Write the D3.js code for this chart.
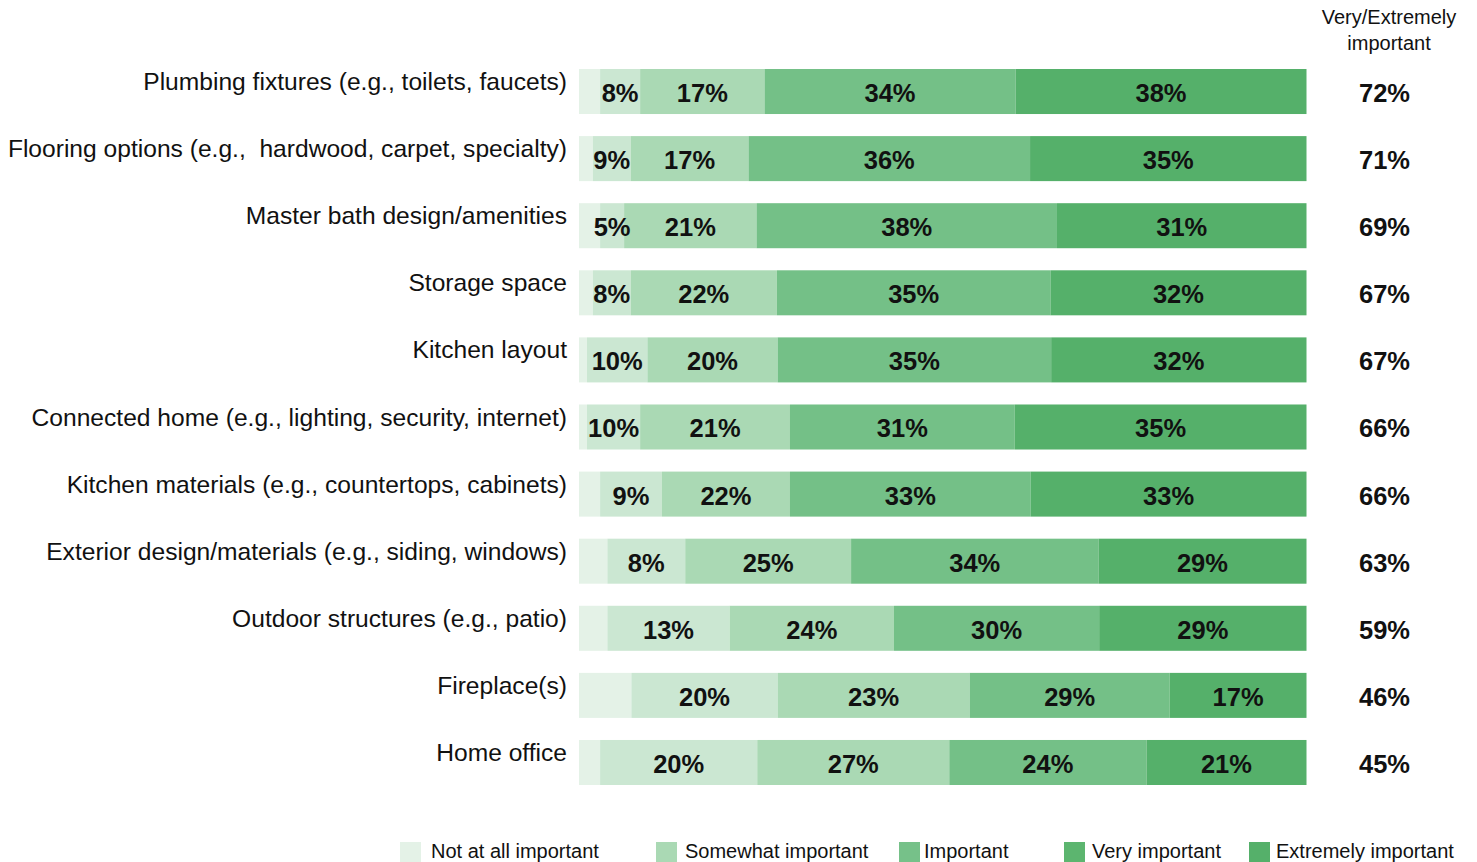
<!DOCTYPE html>
<html>
<head>
<meta charset="utf-8">
<script src="https://cdn.jsdelivr.net/npm/d3@7"></script>
<style>
  html, body { margin: 0; padding: 0; background: #ffffff; }
  svg { display: block; }
</style>
</head>
<body>
<svg id="chart" width="1477" height="862"></svg>
<script>
// ---------- DATA ----------
const categories = [
  "Plumbing fixtures (e.g., toilets, faucets)",
  "Flooring options (e.g.,  hardwood, carpet, specialty)",
  "Master bath design/amenities",
  "Storage space",
  "Kitchen layout",
  "Connected home (e.g., lighting, security, internet)",
  "Kitchen materials (e.g., countertops, cabinets)",
  "Exterior design/materials (e.g., siding, windows)",
  "Outdoor structures (e.g., patio)",
  "Fireplace(s)",
  "Home office"
];

// Segment lengths as drawn in the picture (share of the bar, %)
const notAtAllShare  = [2.9, 1.9, 2.9, 1.9, 1.1, 1.1, 2.9, 3.9, 3.9, 7.2, 2.9];
const somewhatShare  = [5.5, 5.2, 3.3, 5.2, 8.3, 7.3, 8.5, 10.7, 16.8, 20.1, 21.6];
const importantShare = [17.1, 16.2, 18.2, 20.1, 17.9, 20.6, 17.6, 22.8, 22.6, 26.4, 26.4];
const veryShare      = [34.5, 38.7, 41.3, 37.6, 37.6, 30.9, 33.1, 34.0, 28.2, 27.5, 27.1];
const extremelyShare = [40.0, 38.0, 34.3, 35.2, 35.1, 40.1, 37.9, 28.6, 28.5, 18.8, 22.0];

// Printed labels on the segments
const somewhatLabels  = [8, 9, 5, 8, 10, 10, 9, 8, 13, 20, 20];
const importantLabels = [17, 17, 21, 22, 20, 21, 22, 25, 24, 23, 27];
const veryLabels      = [34, 36, 38, 35, 35, 31, 33, 34, 30, 29, 24];
const extremelyLabels = [38, 35, 31, 32, 32, 35, 33, 29, 29, 17, 21];
const veryExtremelyTotals = [72, 71, 69, 67, 67, 66, 66, 63, 59, 46, 45];

const seriesKeys = ["notAtAll", "somewhat", "important", "very", "extremely"];
const legendLabels = ["Not at all important", "Somewhat important", "Important", "Very important", "Extremely important"];
const segmentColors = ["#e4f2e7", "#cbe7d2", "#aad9b4", "#74c087", "#55b06a"];
const legendColors  = ["#e4f2e7", "#aad9b4", "#76c189", "#5cb56f", "#55b06a"];
const headerLines = ["Very/Extremely", "important"];

// ---------- BUILD ----------
const rows = categories.map((c, i) => ({
  category: c,
  notAtAll: notAtAllShare[i],
  somewhat: somewhatShare[i],
  important: importantShare[i],
  very: veryShare[i],
  extremely: extremelyShare[i],
  labels: [null, somewhatLabels[i], importantLabels[i], veryLabels[i], extremelyLabels[i]],
  total: veryExtremelyTotals[i]
}));

const stacked = d3.stack().keys(seriesKeys)(rows);

const svg = d3.select("#chart");
const x = d3.scaleLinear().domain([0, 100]).range([579, 1306.5]);
const y = d3.scaleBand().domain(categories).range([69, 785]).paddingInner(0.329).paddingOuter(0).align(0);

const color = d3.scaleOrdinal().domain(seriesKeys).range(segmentColors);

const fontReg = "'Liberation Sans', Arial, Helvetica, sans-serif";

// bars
const layer = svg.append("g").selectAll("g")
  .data(stacked).join("g")
  .attr("fill", d => color(d.key));

layer.selectAll("rect")
  .data(d => d)
  .join("rect")
  .attr("x", d => x(d[0]))
  .attr("y", d => y(d.data.category))
  .attr("width", d => x(d[1]) - x(d[0]))
  .attr("height", y.bandwidth());

// segment labels
svg.append("g").selectAll("g")
  .data(stacked.filter(s => s.index > 0)).join("g")
  .selectAll("text")
  .data(s => s.map(v => ({ v, idx: s.index })))
  .join("text")
  .attr("x", d => (x(d.v[0]) + x(d.v[1])) / 2)
  .attr("y", d => y(d.v.data.category) + 33)
  .attr("text-anchor", "middle")
  .attr("font-family", fontReg)
  .attr("font-weight", "bold")
  .attr("font-size", 25.5)
  .attr("fill", "#111")
  .text(d => d.v.data.labels[d.idx] + "%");

// category labels (y axis)
const yAxis = d3.axisLeft(y).tickSize(0).tickPadding(12);
const gy = svg.append("g").attr("transform", `translate(${x(0)},0)`).call(yAxis);
gy.select(".domain").remove();
gy.selectAll(".tick text")
  .attr("font-family", fontReg)
  .attr("font-size", 24.6)
  .attr("fill", "#111")
  .attr("dy", null)
  .attr("y", -y.bandwidth() / 2 + 21)
  .style("white-space", "pre");

// totals
svg.append("g").selectAll("text")
  .data(rows).join("text")
  .attr("x", 1359)
  .attr("y", d => y(d.category) + 33)
  .attr("font-family", fontReg)
  .attr("font-weight", "bold")
  .attr("font-size", 25.5)
  .attr("fill", "#111")
  .text(d => d.total + "%");

// header
svg.append("text")
  .attr("text-anchor", "middle")
  .attr("font-family", fontReg)
  .attr("font-size", 20)
  .attr("fill", "#111")
  .selectAll("tspan").data(headerLines).join("tspan")
  .attr("x", 1389)
  .attr("y", (d, i) => 24 + i * 26)
  .text(d => d);

// legend
const legendSwatchX = [400, 656, 899, 1064, 1249];
const legendTextX = [431, 685, 924, 1092, 1276];
const lg = svg.append("g").selectAll("g")
  .data(legendLabels).join("g");
lg.append("rect")
  .attr("x", (d, i) => legendSwatchX[i]).attr("y", 842)
  .attr("width", 21).attr("height", 20)
  .attr("fill", (d, i) => legendColors[i]);
lg.append("text")
  .attr("x", (d, i) => legendTextX[i]).attr("y", 858)
  .attr("font-family", fontReg)
  .attr("font-size", 20)
  .attr("fill", "#111")
  .text(d => d);
</script>
</body>
</html>
